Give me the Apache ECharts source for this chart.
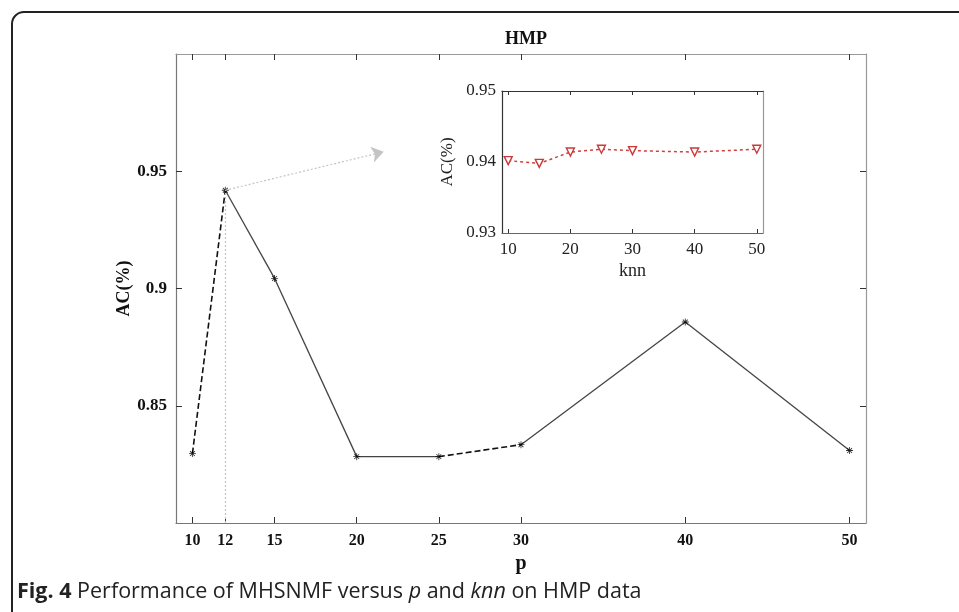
<!DOCTYPE html>
<html>
<head>
<meta charset="utf-8">
<script src="https://cdn.jsdelivr.net/npm/echarts@6/dist/echarts.min.js"></script>
<style>
  html, body { margin: 0; padding: 0; background: #fff; }
  #chart { width: 959px; height: 612px; }
</style>
</head>
<body>
<div id="chart"></div>
<script>
// main plot: AC versus p
const pValues = [10, 12, 15, 20, 25, 30, 40, 50];
const acByP = [0.8296, 0.9419, 0.9043, 0.8283, 0.8283, 0.8334, 0.8857, 0.8309];
// line style of each segment between consecutive points
const segmentTypes = ['dashed', 'solid', 'solid', 'solid', 'dashed', 'solid', 'solid'];
const pTicks = [10, 12, 15, 20, 25, 30, 40, 50];
const acTicks = [0.85, 0.9, 0.95];

// inset: AC versus knn
const knnValues = [10, 15, 20, 25, 30, 40, 50];
const acByKnn = [0.9402, 0.9398, 0.9414, 0.9418, 0.9416, 0.9414, 0.9418];
const knnTicks = [10, 20, 30, 40, 50];

// arrow from the p=12 point towards the inset
const arrowStart = [12, 0.9419];
const arrowEnd = [21.64, 0.9583];

const serif = 'Liberation Serif';
const asterisk = 'path://M4.4,0h1.2v10h-1.2z M0,4.4h10v1.2h-10z M1.1,2l0.9,-0.9l6.9,6.9l-0.9,0.9z M8,1.1l0.9,0.9l-6.9,6.9l-0.9,-0.9z';

let myChart = echarts.init(document.getElementById('chart'));

let series = [];
for (let i = 0; i < segmentTypes.length; i++) {
    series.push({
        type: 'line',
        xAxisIndex: 0,
        yAxisIndex: 0,
        showSymbol: false,
        silent: true,
        data: [[pValues[i], acByP[i]], [pValues[i + 1], acByP[i + 1]]],
        lineStyle: {
            color: segmentTypes[i] === 'dashed' ? '#111' : '#444',
            width: segmentTypes[i] === 'dashed' ? 1.6 : 1.3,
            type: segmentTypes[i] === 'dashed' ? [6, 3] : 'solid'
        },
        z: 3
    });
}

series.push({
    type: 'scatter',
    xAxisIndex: 0,
    yAxisIndex: 0,
    symbol: asterisk,
    symbolSize: 7,
    itemStyle: { color: '#000' },
    data: pValues.map((p, i) => [p, acByP[i]]),
    z: 4,
    markLine: {
        silent: true,
        symbol: ['none', 'arrow'],
        symbolSize: 12,
        label: { show: false },
        lineStyle: { color: '#c4c4c4', type: [2, 2], width: 1.2 },
        itemStyle: { color: '#bdbdbd' },
        data: [
            [{ coord: arrowStart }, { coord: arrowEnd }],
            [{ coord: [arrowStart[0], 0.8] }, { coord: arrowStart, symbol: 'none' }]
        ]
    }
});

series.push({
    type: 'line',
    xAxisIndex: 2,
    yAxisIndex: 2,
    symbol: 'triangle',
    symbolRotate: 180,
    symbolSize: 8,
    showAllSymbol: true,
    data: knnValues.map((k, i) => [k, acByKnn[i]]),
    lineStyle: { color: '#d04040', width: 1.5, type: [3, 3] },
    itemStyle: { color: '#fff', borderColor: '#c83a3a', borderWidth: 1.4 },
    z: 3
});

const tickStyle = { show: true, inside: true, length: 6, lineStyle: { color: '#333', width: 1 } };
const mainLabel = { fontFamily: serif, fontWeight: 'bold', fontSize: 16, color: '#111' };
const insetLabel = { fontFamily: serif, fontSize: 17, color: '#222' };

const option = {
    backgroundColor: '#fff',
    animation: false,
    title: {
        text: 'HMP',
        left: 521,
        top: 25,
        textAlign: 'center',
        textStyle: { fontFamily: serif, fontWeight: 'bold', fontSize: 18, color: '#111' }
    },
    grid: [
        { left: 176, top: 54, width: 690, height: 469 },
        { left: 502, top: 91, width: 261, height: 142, show: true, backgroundColor: '#fff', borderWidth: 0 }
    ],
    xAxis: [
        {
            type: 'value', gridIndex: 0, min: 9, max: 51,
            name: 'p', nameLocation: 'middle', nameGap: 30,
            nameTextStyle: { fontFamily: serif, fontWeight: 'bold', fontSize: 20, color: '#111' },
            axisLine: { show: true, onZero: false, lineStyle: { color: '#777', width: 1.2 } },
            axisTick: Object.assign({ customValues: pTicks }, tickStyle),
            axisLabel: Object.assign({ customValues: pTicks, margin: 10 }, mainLabel),
            splitLine: { show: false }
        },
        {
            type: 'value', gridIndex: 0, min: 9, max: 51, position: 'top',
            axisLine: { show: true, onZero: false, lineStyle: { color: '#999', width: 1.2 } },
            axisTick: Object.assign({ customValues: pTicks }, tickStyle),
            axisLabel: { show: false },
            splitLine: { show: false }
        },
        {
            type: 'value', gridIndex: 1, min: 9, max: 51,
            name: 'knn', nameLocation: 'middle', nameGap: 29,
            nameTextStyle: { fontFamily: serif, fontSize: 18, color: '#222' },
            axisLine: { show: true, onZero: false, lineStyle: { color: '#666', width: 1.2 } },
            axisTick: Object.assign({ customValues: knnTicks }, tickStyle, { length: 4 }),
            axisLabel: Object.assign({ customValues: knnTicks, margin: 8 }, insetLabel),
            splitLine: { show: false }
        },
        {
            type: 'value', gridIndex: 1, min: 9, max: 51, position: 'top',
            axisLine: { show: true, onZero: false, lineStyle: { color: '#333', width: 1.2 } },
            axisTick: Object.assign({ customValues: knnTicks }, tickStyle, { length: 4 }),
            axisLabel: { show: false },
            splitLine: { show: false }
        }
    ],
    yAxis: [
        {
            type: 'value', gridIndex: 0, min: 0.8, max: 1.0,
            name: 'AC(%)', nameLocation: 'middle', nameGap: 43, nameRotate: 90,
            nameMoveOverlap: false,
            nameTextStyle: { fontFamily: serif, fontWeight: 'bold', fontSize: 18, color: '#111' },
            axisLine: { show: true, onZero: false, lineStyle: { color: '#777', width: 1.2 } },
            axisTick: Object.assign({ customValues: acTicks }, tickStyle),
            axisLabel: Object.assign({ customValues: acTicks, margin: 9 }, mainLabel, { fontSize: 17 }),
            splitLine: { show: false }
        },
        {
            type: 'value', gridIndex: 0, min: 0.8, max: 1.0, position: 'right',
            axisLine: { show: true, onZero: false, lineStyle: { color: '#999', width: 1.2 } },
            axisTick: Object.assign({ customValues: acTicks }, tickStyle),
            axisLabel: { show: false },
            splitLine: { show: false }
        },
        {
            type: 'value', gridIndex: 1, min: 0.93, max: 0.95, interval: 0.01,
            name: 'AC(%)', nameLocation: 'middle', nameGap: 46, nameRotate: 90,
            nameMoveOverlap: false,
            nameTextStyle: { fontFamily: serif, fontSize: 17, color: '#222' },
            axisLine: { show: true, onZero: false, lineStyle: { color: '#333', width: 1.2 } },
            axisTick: { show: false },
            axisLabel: Object.assign({ margin: 6, formatter: v => v.toFixed(2) }, insetLabel),
            splitLine: { show: false }
        },
        {
            type: 'value', gridIndex: 1, min: 0.93, max: 0.95, interval: 0.01, position: 'right',
            axisLine: { show: true, onZero: false, lineStyle: { color: '#999', width: 1.2 } },
            axisTick: { show: false },
            axisLabel: { show: false },
            splitLine: { show: false }
        }
    ],
    graphic: [
        {
            type: 'rect',
            silent: true,
            shape: { x: 12, y: 12, width: 1000, height: 700, r: [12, 0, 0, 0] },
            style: { fill: 'none', stroke: '#222', lineWidth: 2 }
        },
        {
            type: 'text',
            left: 17,
            top: 581,
            style: {
                text: '{b|Fig. 4} Performance of MHSNMF versus {i|p} and {i|knn} on HMP data',
                fontFamily: 'Open Sans',
                fontSize: 21.5,
                fill: '#222',
                rich: {
                    b: { fontFamily: 'Open Sans', fontWeight: 'bold', fontSize: 21.5, color: '#222' },
                    i: { fontFamily: 'Open Sans', fontStyle: 'italic', fontSize: 21.5, color: '#222' }
                }
            }
        }
    ],
    series: series
};

myChart.setOption(option, true);
</script>
</body>
</html>
